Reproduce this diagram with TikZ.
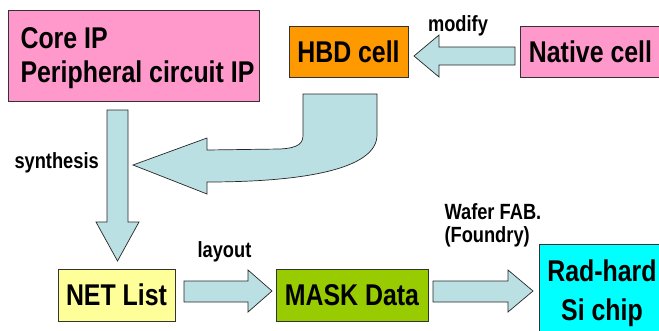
\documentclass[tikz,border=0pt]{standalone}
\usepackage{fontspec}
\setmainfont{Liberation Sans}[FakeStretch=0.83]
\definecolor{pinkc}{RGB}{255,153,204}
\definecolor{orangec}{RGB}{255,153,0}
\definecolor{yellowc}{RGB}{255,255,153}
\definecolor{greenc}{RGB}{153,204,0}
\definecolor{cyanc}{RGB}{0,255,255}
\definecolor{arrowfill}{RGB}{187,224,227}
\begin{document}
\begin{tikzpicture}[x=1pt,y=-1pt,
  box/.style={draw=black!80, line width=0.8pt, inner sep=0pt},
  big/.style={font=\fontsize{30}{34}\selectfont\bfseries},
  small/.style={font=\fontsize{22}{25}\selectfont\bfseries},
  blockarrow/.style={draw=black!85, line width=0.7pt, fill=arrowfill, line join=miter}]
\useasboundingbox (0,0) rectangle (659,330);
\clip (0,0) rectangle (659,330);

% boxes
\node[box, fill=pinkc, minimum width=251pt, minimum height=91pt] (core) at (133.5,55.5) {};
\node[big, anchor=base west] (coretxt1) at (17,48.3) {Core IP};
\node[big, anchor=base west] (coretxt2) at (17,82) {Peripheral circuit IP};
\node[box, big, fill=orangec, minimum width=119pt, minimum height=51pt] (hbd) at (348.5,51.5) {HBD cell};
\node[box, big, fill=pinkc, minimum width=141pt, minimum height=51pt] (native) at (590.5,51.5) {Native cell};
\node[box, big, fill=yellowc, minimum width=117pt, minimum height=52pt] (net) at (116.5,295) {NET List};
\node[box, big, fill=greenc, minimum width=152pt, minimum height=52pt] (mask) at (352,295) {MASK Data};
\node[box, fill=cyanc, minimum width=130pt, minimum height=100pt] (chip) at (604,294) {};
\node[big, anchor=base] (chiptxt1) at (602,281.7) {Rad-hard};
\node[big, anchor=base] (chiptxt2) at (602,320) {Si chip};

% labels
\node[small, anchor=base] (modify) at (458,31.7) {modify};
\node[small, anchor=base west] (synth) at (11,168) {synthesis};
\node[small, anchor=base] (layout) at (224.5,257) {layout};
\node[small, anchor=base west] (fab1) at (441,219) {Wafer FAB.};
\node[small, anchor=base west] (fab2) at (441,242) {(Foundry)};

% block arrows
% modify: native cell -> HBD cell
\draw[blockarrow] (515,47) -- (439,47) -- (439,35) -- (414,56) -- (439,77) -- (439,65) -- (515,65) -- cycle;
% HBD cell -> synthesis (bent arrow)
\draw[blockarrow] (303,94) -- (377,94) -- (377,135)
  .. controls (377,170) and (300,182) .. (207,182)
  -- (207,194) -- (133,165) -- (207,138) -- (207,150)
  -- (280,149) .. controls (299,148) and (303,143) .. (303,135) -- cycle;
% synthesis: core IP -> NET list
\draw[blockarrow] (107,110) -- (128,110) -- (128,222) -- (139,222) -- (117.5,261) -- (96,222) -- (107,222) -- cycle;
% layout: NET list -> MASK data
\draw[blockarrow] (184,281) -- (248,281) -- (248,270) -- (272,291) -- (248,312) -- (248,302) -- (184,302) -- cycle;
% wafer fab: MASK data -> chip
\draw[blockarrow] (433,281) -- (508,281) -- (508,270) -- (533,291) -- (508,312) -- (508,302) -- (433,302) -- cycle;
\end{tikzpicture}
\end{document}
